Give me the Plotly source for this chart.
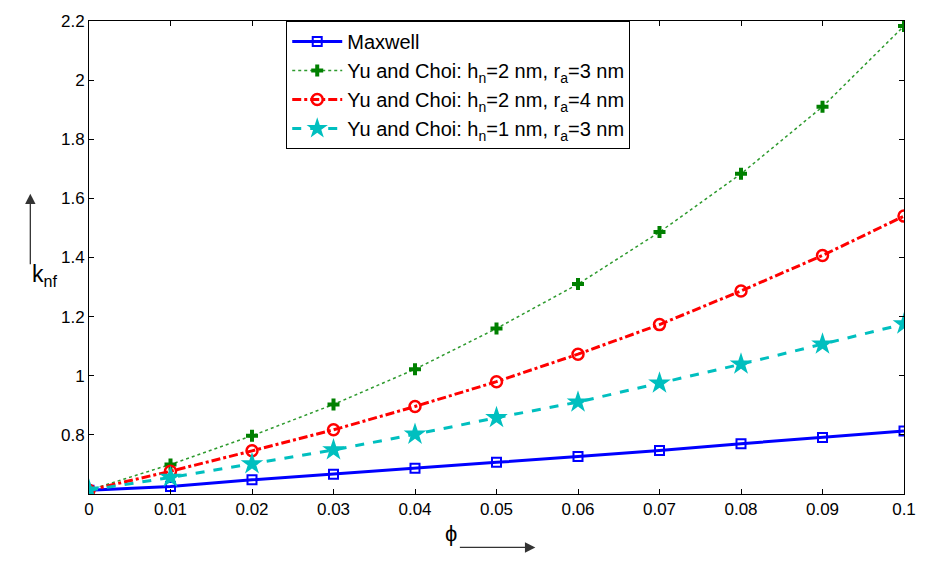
import plotly.graph_objects as go

phi = [0, 0.01, 0.02, 0.03, 0.04, 0.05, 0.06, 0.07, 0.08, 0.09, 0.1]
maxwell = [0.613, 0.625, 0.648, 0.667, 0.687, 0.707, 0.727, 0.747, 0.770, 0.791, 0.813]
yc_h2_r3 = [0.613, 0.700, 0.797, 0.903, 1.022, 1.160, 1.310, 1.486, 1.683, 1.910, 2.183]
yc_h2_r4 = [0.613, 0.677, 0.746, 0.817, 0.896, 0.980, 1.073, 1.173, 1.287, 1.407, 1.540]
yc_h1_r3 = [0.613, 0.656, 0.702, 0.749, 0.802, 0.858, 0.911, 0.975, 1.039, 1.107, 1.175]

names = ["Maxwell",
         "Yu and Choi: h<sub>n</sub>=2 nm, r<sub>a</sub>=3 nm",
         "Yu and Choi: h<sub>n</sub>=2 nm, r<sub>a</sub>=4 nm",
         "Yu and Choi: h<sub>n</sub>=1 nm, r<sub>a</sub>=3 nm"]

xticks = [0, 0.01, 0.02, 0.03, 0.04, 0.05, 0.06, 0.07, 0.08, 0.09, 0.1]
xticklabels = ["0", "0.01", "0.02", "0.03", "0.04", "0.05", "0.06", "0.07", "0.08", "0.09", "0.1"]
yticks = [0.8, 1.0, 1.2, 1.4, 1.6, 1.8, 2.0, 2.2]
yticklabels = ["0.8", "1", "1.2", "1.4", "1.6", "1.8", "2", "2.2"]

fig = go.Figure()
fig.add_trace(go.Scatter(x=phi, y=maxwell, name=names[0], mode="lines+markers",
                         line=dict(color="#0000FF", width=3, dash="solid"),
                         marker=dict(symbol="square-open", size=9, color="#0000FF",
                                     line=dict(width=2, color="#0000FF"))))
fig.add_trace(go.Scatter(x=phi, y=yc_h2_r3, name=names[1], mode="lines+markers",
                         line=dict(color="#2E9A2E", width=1.5, dash="dot"),
                         marker=dict(symbol="cross", size=10, color="#008000")))
fig.add_trace(go.Scatter(x=phi, y=yc_h2_r4, name=names[2], mode="lines+markers",
                         line=dict(color="#FF0000", width=3, dash="dashdot"),
                         marker=dict(symbol="circle-open", size=11, color="#FF0000",
                                     line=dict(width=2.5, color="#FF0000"))))
fig.add_trace(go.Scatter(x=phi, y=yc_h1_r3, name=names[3], mode="lines+markers",
                         line=dict(color="#00BFBF", width=3, dash="dash"),
                         marker=dict(symbol="star", size=17, color="#00BFBF",
                                     line=dict(width=0))))

axis_common = dict(showline=True, linecolor="black", linewidth=1, mirror="ticks",
                   ticks="inside", ticklen=5, tickcolor="black", showgrid=False,
                   zeroline=False, tickfont=dict(size=17, color="black"))

fig.update_xaxes(range=[0, 0.1], tickvals=xticks, ticktext=xticklabels, **axis_common)
fig.update_yaxes(range=[0.6, 2.2], tickvals=yticks, ticktext=yticklabels, **axis_common)

fig.update_layout(
    width=928, height=562,
    margin=dict(l=89, r=21, t=15, b=68),
    paper_bgcolor="white", plot_bgcolor="white",
    font=dict(family="Liberation Sans, Arial, Helvetica, sans-serif", color="black"),
    legend=dict(x=0.242, y=1.0, xanchor="left", yanchor="top",
                bgcolor="white", bordercolor="black", borderwidth=1,
                font=dict(size=20, color="black"), itemwidth=50,
                tracegroupgap=0),
    annotations=[
        dict(text="k<sub>nf</sub>", xref="paper", yref="paper",
             x=-0.072, y=0.462, showarrow=False, font=dict(size=23, color="black")),
        dict(text="", xref="paper", yref="paper", x=-0.072, y=0.635,
             ax=0, ay=72, showarrow=True, arrowhead=2, arrowsize=1.6,
             arrowwidth=1.3, arrowcolor="#333333"),
        dict(text="ϕ", xref="paper", yref="paper", x=(452 - 89) / 818, y=-0.115,
             showarrow=False, font=dict(size=22, color="black")),
        dict(text="", xref="paper", yref="paper", x=(537 - 89) / 818, y=-0.113,
             ax=-77, ay=0, showarrow=True, arrowhead=2, arrowsize=1.6,
             arrowwidth=1.3, arrowcolor="#333333"),
    ],
)

fig.write_html("out.html")
